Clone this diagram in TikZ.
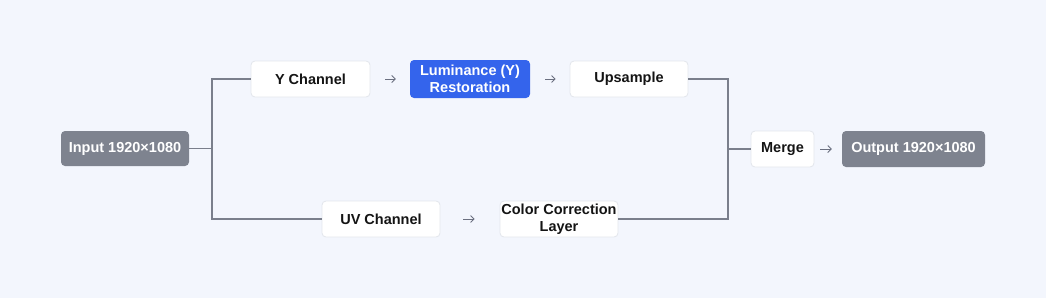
\documentclass[tikz,border=0pt]{standalone}
\usepackage{fontspec}
\setmainfont{Liberation Sans}
\usetikzlibrary{arrows.meta}
\definecolor{bg}{HTML}{F3F6FD}
\definecolor{boxborder}{HTML}{E3E6EC}
\definecolor{graybox}{HTML}{7E838F}
\definecolor{bluebox}{HTML}{3464EC}
\definecolor{linec}{HTML}{7A7F8C}
\definecolor{txt}{HTML}{141414}
\definecolor{arrowc}{HTML}{6B7080}
\tikzset{
  base/.style={rounded corners=4pt, inner sep=0pt, align=center, font=\fontsize{14.5}{17}\selectfont\bfseries},
  whitebox/.style={base, fill=white, draw=boxborder, line width=0.8pt, text=txt},
  greybox/.style={base, fill=graybox, text=white},
  bluenode/.style={base, fill=bluebox, text=white},
  link/.style={draw=linec, line width=1.5pt},
  flow/.style={draw=arrowc, line width=0.8pt, -{Straight Barb[length=3.5pt,width=7pt]}},
}
\begin{document}
\begin{tikzpicture}[x=1pt,y=-1pt]
\fill[bg] (0,0) rectangle (1046,298);
\useasboundingbox (0,0) rectangle (1046,298);
\node[greybox, minimum width=128pt, minimum height=35pt] (in) at (125,148.5) {Input 1920×1080};
\node[whitebox, minimum width=119pt, minimum height=36pt] (y) at (310.5,79) {Y Channel};
\node[bluenode, minimum width=120pt, minimum height=38pt] (lum) at (470,79) {Luminance (Y)\\Restoration};
\node[whitebox, minimum width=118pt, minimum height=36pt] (up) at (629,79) {Upsample};
\node[whitebox, minimum width=118pt, minimum height=36pt] (uv) at (381,219) {UV Channel};
\node[whitebox, minimum width=118pt, minimum height=36pt] (cc) at (559,219) {Color Correction\\Layer};
\node[whitebox, minimum width=63pt, minimum height=36pt] (mg) at (782.5,149) {Merge};
\node[greybox, minimum width=143pt, minimum height=36pt] (out) at (913.5,149) {Output 1920×1080};
\coordinate (sl) at (212,148.5);
\coordinate (sr) at (728,149);
\draw[link] (in.east) -- (sl);
\draw[link] (sl) |- (y.west);
\draw[link] (sl) |- (uv.west);
\draw[link] (up.east) -| (sr);
\draw[link] (cc.east) -| (sr);
\draw[link] (sr) -- (mg.west);
\draw[flow, shorten <=15pt, shorten >=14pt] (y.east) -- (lum.west);
\draw[flow, shorten <=15pt, shorten >=14pt] (lum.east) -- (up.west);
\draw[flow, shorten <=23pt, shorten >=25pt] (uv.east) -- (cc.west);
\draw[flow, shorten <=6pt, shorten >=10pt] (mg.east) -- (out.west);
\end{tikzpicture}
\end{document}
